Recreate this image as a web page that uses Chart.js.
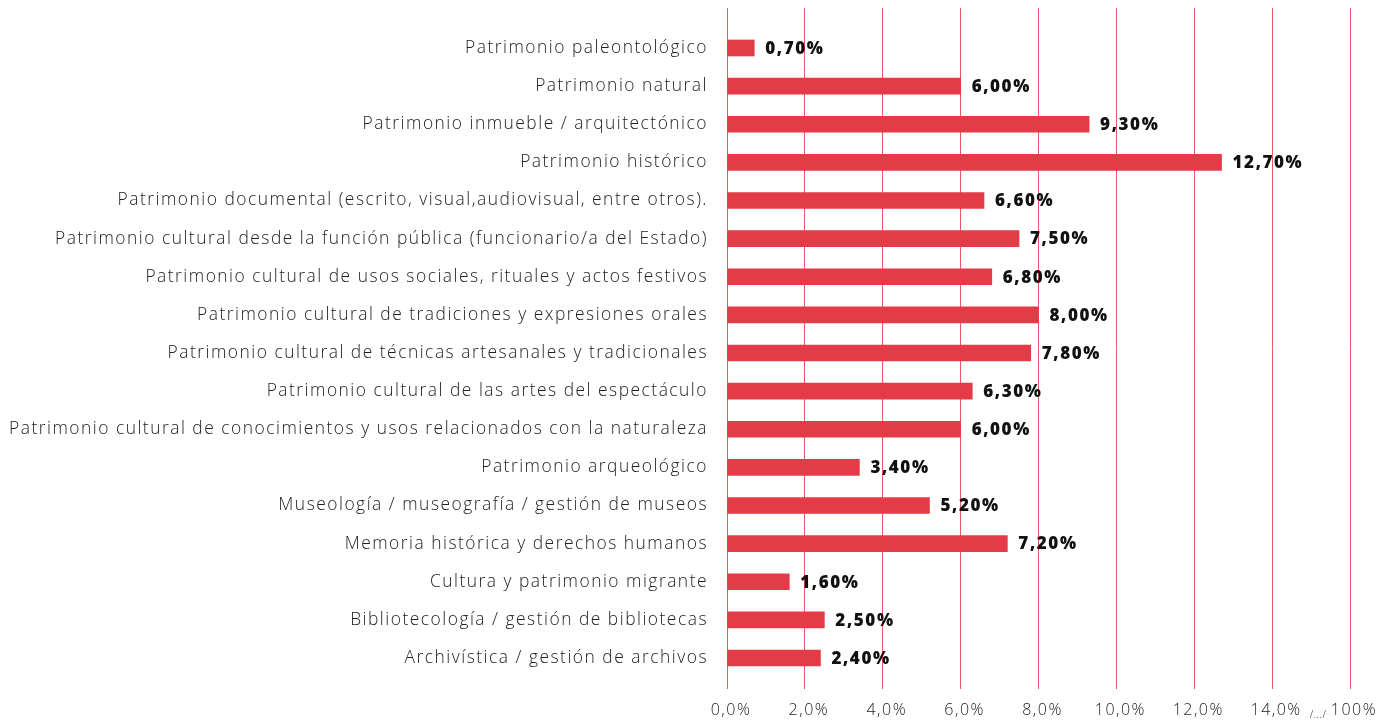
<!DOCTYPE html>
<html>
<head>
<meta charset="utf-8">
<script src="https://cdn.jsdelivr.net/npm/chart.js@4.4.1/dist/chart.umd.min.js"></script>
<style>
html,body{margin:0;padding:0;background:#fff;}
#wrap{width:1395px;height:723px;position:relative;}
</style>
</head>
<body>
<div id="wrap"><canvas id="c" width="1395" height="723"></canvas></div>
<script>
const categories = [
  "Patrimonio paleontológico",
  "Patrimonio natural",
  "Patrimonio inmueble / arquitectónico",
  "Patrimonio histórico",
  "Patrimonio documental (escrito, visual,audiovisual, entre otros).",
  "Patrimonio cultural desde la función pública (funcionario/a del Estado)",
  "Patrimonio cultural de usos sociales, rituales y actos festivos",
  "Patrimonio cultural de tradiciones y expresiones orales",
  "Patrimonio cultural de técnicas artesanales y tradicionales",
  "Patrimonio cultural de las artes del espectáculo",
  "Patrimonio cultural de conocimientos y usos relacionados con la naturaleza",
  "Patrimonio arqueológico",
  "Museología / museografía / gestión de museos",
  "Memoria histórica y derechos humanos",
  "Cultura y patrimonio migrante",
  "Bibliotecología / gestión de bibliotecas",
  "Archivística / gestión de archivos"
];
const values = [0.7, 6.0, 9.3, 12.7, 6.6, 7.5, 6.8, 8.0, 7.8, 6.3, 6.0, 3.4, 5.2, 7.2, 1.6, 2.5, 2.4];
const xTickValues = [0, 2, 4, 6, 8, 10, 12, 14, 16];
const xTickLabels = ["0,0%", "2,0%", "4,0%", "6,0%", "8,0%", "10,0%", "12,0%", "14,0%", "100%"];
const axisBreakText = "/.../";

const RED = '#e33b47';

const spacing = {
  id: 'spacing',
  beforeDraw(chart) {
    try { chart.ctx.letterSpacing = '1.5px'; } catch (e) {}
  }
};

const valueLabels = {
  id: 'valueLabels',
  afterDatasetsDraw(chart) {
    const ctx = chart.ctx;
    const meta = chart.getDatasetMeta(0);
    ctx.save();
    ctx.font = '800 17px "Open Sans"';
    ctx.fillStyle = '#111';
    ctx.textAlign = 'left';
    ctx.textBaseline = 'middle';
    try { ctx.letterSpacing = '1.6px'; } catch (e) {}
    meta.data.forEach((bar, i) => {
      const txt = values[i].toFixed(2).replace('.', ',') + '%';
      ctx.fillText(txt, bar.x + 11, bar.y + 1);
    });
    ctx.restore();
  },
  afterDraw(chart) {
    const ctx = chart.ctx;
    const xs = chart.scales.x;
    ctx.save();
    ctx.font = '300 10px "Open Sans"';
    ctx.fillStyle = '#222';
    ctx.textAlign = 'center';
    ctx.textBaseline = 'alphabetic';
    try { ctx.letterSpacing = '0.5px'; } catch (e) {}
    const px = (xs.getPixelForValue(14) + xs.getPixelForValue(16)) / 2 + 7;
    ctx.fillText(axisBreakText, px, xs.top + 29);
    ctx.restore();
  }
};

new Chart(document.getElementById('c'), {
  type: 'bar',
  data: {
    datasets: [{
      data: values.map((v, i) => ({ x: v, y: i })),
      backgroundColor: RED,
      borderWidth: 0,
      barThickness: 16
    }]
  },
  options: {
    indexAxis: 'y',
    responsive: false,
    animation: false,
    layout: { padding: { top: 8, left: 0, right: 45, bottom: 0 } },
    plugins: { legend: { display: false }, tooltip: { enabled: false } },
    scales: {
      x: {
        type: 'linear',
        min: 0,
        max: 16,
        afterBuildTicks: s => { s.ticks = xTickValues.map(v => ({ value: v })); },
        afterFit: s => { s.height = 34; s.paddingLeft = 0; s.paddingRight = 0; },
        grid: { color: '#ea5a64', lineWidth: 1, drawTicks: false },
        border: { display: false },
        ticks: {
          padding: 12,
          labelOffset: 4,
          color: '#222',
          maxRotation: 0,
          font: { family: 'Open Sans', size: 16, weight: '300' },
          callback: (v) => xTickLabels[xTickValues.indexOf(v)]
        }
      },
      y: {
        type: 'linear',
        reverse: true,
        offset: false,
        min: -1.049,
        max: 16.813,
        afterBuildTicks: s => { s.ticks = categories.map((_, i) => ({ value: i })); },
        afterFit: s => { s.width = 727; s.paddingTop = 0; s.paddingBottom = 0; },
        grid: { display: false, drawTicks: false, offset: false },
        border: { display: false },
        ticks: {
          padding: 19,
          color: '#222',
          autoSkip: false,
          font: { family: 'Open Sans', size: 17.4, weight: '300' },
          callback: (v) => categories[v]
        }
      }
    }
  },
  plugins: [spacing, valueLabels]
});
</script>
</body>
</html>
